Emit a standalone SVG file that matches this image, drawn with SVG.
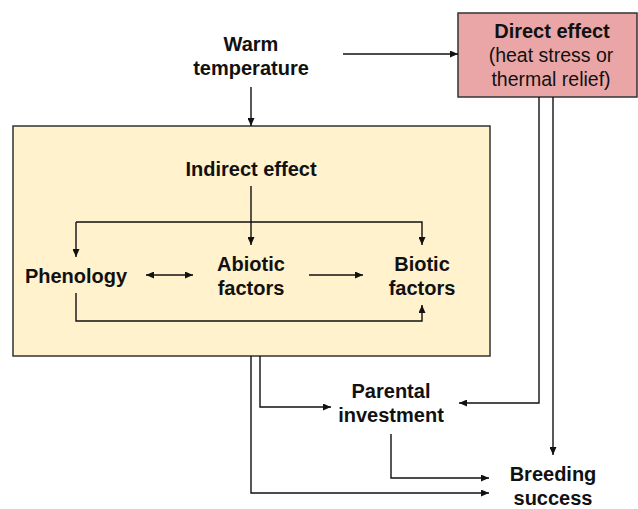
<svg xmlns="http://www.w3.org/2000/svg" width="638" height="509" viewBox="0 0 638 509">
<style>
text{font-family:"Liberation Sans",Arial,sans-serif;font-size:20px;fill:#111;text-anchor:middle}
.b{font-weight:bold}
.n{font-size:19.5px}
.c{fill:none;stroke:#111;stroke-width:1.4}
</style>
<defs>
<marker id="a" viewBox="0 0 8 7" refX="8" refY="3.5" markerWidth="8" markerHeight="7" markerUnits="userSpaceOnUse" orient="auto-start-reverse">
<path d="M0,0L8,3.5L0,7z" fill="#111"/>
</marker>
</defs>
<rect width="638" height="509" fill="#fff"/>
<g id="indirect-box">
<rect x="13" y="126" width="477" height="230" fill="#FFF2CC" stroke="#333" stroke-width="1.5"/>
</g>
<g id="direct-effect">
<rect x="458" y="13" width="179" height="84" fill="#EAA6A6" stroke="#333" stroke-width="1.5"/>
<text x="552" y="38" class="b">Direct effect</text>
<text x="551" y="62" class="n">(heat stress or</text>
<text x="551" y="86" class="n">thermal relief)</text>
</g>
<g id="warm-temperature">
<text x="251" y="51" class="b">Warm</text>
<text x="251" y="75" class="b">temperature</text>
</g>
<g id="indirect-effect">
<text x="251" y="176" class="b">Indirect effect</text>
</g>
<g id="phenology">
<text x="76" y="283" class="b">Phenology</text>
</g>
<g id="abiotic">
<text x="251" y="271" class="b">Abiotic</text>
<text x="251" y="295" class="b">factors</text>
</g>
<g id="biotic">
<text x="422" y="271" class="b">Biotic</text>
<text x="422" y="295" class="b">factors</text>
</g>
<g id="parental">
<text x="391" y="398" class="b">Parental</text>
<text x="391" y="422" class="b">investment</text>
</g>
<g id="breeding">
<text x="553" y="481" class="b">Breeding</text>
<text x="553" y="505" class="b">success</text>
</g>
<g id="connectors" class="c">
<path class="c" d="M343,54H458" marker-end="url(#a)"/>
<path class="c" d="M251,87V126" marker-end="url(#a)"/>
<path class="c" d="M251,186V245" marker-end="url(#a)"/>
<path class="c" d="M76,222H422V245" marker-end="url(#a)"/>
<path class="c" d="M76,222V257" marker-end="url(#a)"/>
<path class="c" d="M146,275H193" marker-start="url(#a)" marker-end="url(#a)"/>
<path class="c" d="M309,275H363" marker-end="url(#a)"/>
<path class="c" d="M76,293V321H422V305" marker-end="url(#a)"/>
<path class="c" d="M251,356V493H489" marker-end="url(#a)"/>
<path class="c" d="M260,356V407H331" marker-end="url(#a)"/>
<path class="c" d="M539,97V403H459" marker-end="url(#a)"/>
<path class="c" d="M553,97V455" marker-end="url(#a)"/>
<path class="c" d="M391,434V478H489" marker-end="url(#a)"/>
</g>
</svg>
